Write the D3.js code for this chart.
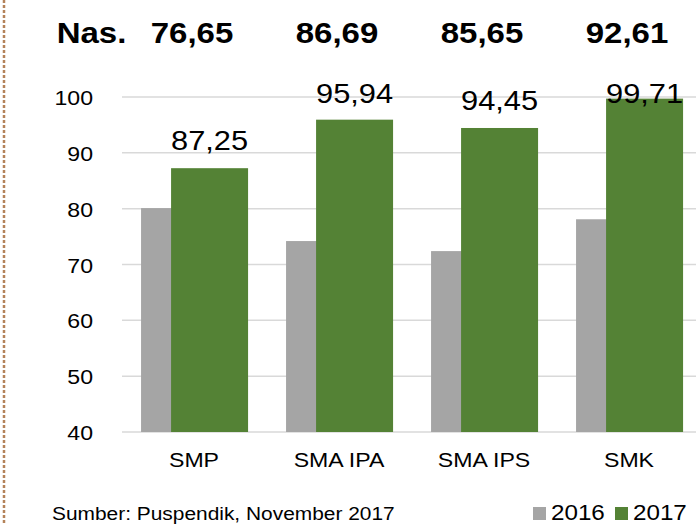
<!DOCTYPE html>
<html>
<head>
<meta charset="utf-8">
<script src="https://cdn.jsdelivr.net/npm/d3@7"></script>
<style>
  body { margin: 0; background: #fff; }
  svg { display: block; font-family: "Liberation Sans", Arial, sans-serif; }
</style>
</head>
<body>
<div id="chart"></div>
<script>
// Data
const categories = ["SMP", "SMA IPA", "SMA IPS", "SMK"];
const values2016 = [80.1, 74.2, 72.4, 78.1];
const values2017 = [87.25, 95.94, 94.45, 99.71];
const nasional = [76.65, 86.69, 85.65, 92.61];
const yTicks = [40, 50, 60, 70, 80, 90, 100];
const seriesNames = ["2016", "2017"];

const width = 696, height = 525;
const colors = {"2016": "#a5a5a5", "2017": "#548235"};

// comma as decimal separator
const fmt = d3.formatLocale({decimal: ",", thousands: ".", grouping: [3], currency: ["", ""]}).format(".2f");

const svg = d3.select("#chart").append("svg")
    .attr("width", width)
    .attr("height", height);

// text in the reference is slightly stretched horizontally
const sx = 1.1;
function place(sel, x, y) {
    return sel.attr("transform", (d, i) => "translate(" + x(d, i) + "," + y(d, i) + ") scale(" + sx + ",1)");
}

// dashed margin line on the left
svg.append("line")
    .attr("x1", 4).attr("x2", 4)
    .attr("y1", 0).attr("y2", height)
    .attr("stroke", "#b5835a")
    .attr("stroke-width", 2.5)
    .attr("stroke-dasharray", "3,2");

// scales
const x = d3.scaleBand()
    .domain(categories)
    .range([122.5, 702.5]);

const y = d3.scaleLinear()
    .domain([40, 100])
    .range([432, 97]);

const bw = x.bandwidth();
const barW = bw * 0.531;
const gap = bw * 0.128;
const shift = bw * 0.207;

// gridlines
svg.append("g")
    .selectAll("line")
    .data(yTicks)
    .enter().append("line")
    .attr("x1", 122).attr("x2", width)
    .attr("y1", d => y(d)).attr("y2", d => y(d))
    .attr("stroke", "#d9d9d9")
    .attr("stroke-width", 1.5);

// y tick labels
place(svg.append("g")
    .selectAll("text")
    .data(yTicks)
    .enter().append("text")
    .attr("text-anchor", "end")
    .attr("font-size", 21)
    .attr("fill", "#000")
    .text(d => d), () => 93, d => y(d) + 8);

// 2016 bars (behind)
svg.append("g")
    .selectAll("rect")
    .data(categories)
    .enter().append("rect")
    .attr("x", d => x(d) + gap)
    .attr("y", (d, i) => y(values2016[i]))
    .attr("width", barW)
    .attr("height", (d, i) => y(40) - y(values2016[i]))
    .attr("fill", colors["2016"]);

// 2017 bars (overlapping in front)
svg.append("g")
    .selectAll("rect")
    .data(categories)
    .enter().append("rect")
    .attr("x", d => x(d) + gap + shift)
    .attr("y", (d, i) => y(values2017[i]))
    .attr("width", barW)
    .attr("height", (d, i) => y(40) - y(values2017[i]))
    .attr("fill", colors["2017"]);

// 2017 value labels
place(svg.append("g")
    .selectAll("text")
    .data(categories)
    .enter().append("text")
    .attr("text-anchor", "middle")
    .attr("font-size", 28)
    .attr("fill", "#000")
    .text((d, i) => fmt(values2017[i])),
    d => x(d) + gap + shift + barW / 2,
    (d, i) => Math.max(y(values2017[i]) - 18, 103));

// x axis labels
place(svg.append("g")
    .selectAll("text")
    .data(categories)
    .enter().append("text")
    .attr("text-anchor", "middle")
    .attr("font-size", 21)
    .attr("fill", "#000")
    .text(d => d), d => x(d) + x.bandwidth() / 2 - 1, () => 467);

// national averages row
place(svg.append("text")
    .attr("text-anchor", "middle")
    .attr("font-size", 30)
    .attr("font-weight", "bold")
    .text("Nas."), () => 91.5, () => 43);

place(svg.append("g")
    .selectAll("text")
    .data(categories)
    .enter().append("text")
    .attr("text-anchor", "middle")
    .attr("font-size", 30)
    .attr("font-weight", "bold")
    .text((d, i) => fmt(nasional[i])), d => x(d) + x.bandwidth() / 2 - 3, () => 43);

// source note
place(svg.append("text")
    .attr("font-size", 19)
    .attr("fill", "#000")
    .text("Sumber: Puspendik, November 2017"), () => 52, () => 520);

// legend
const legendX = [533, 615];
const legend = svg.append("g")
    .selectAll("g")
    .data(seriesNames)
    .enter().append("g");

legend.append("rect")
    .attr("x", (d, i) => legendX[i])
    .attr("y", 507)
    .attr("width", 13)
    .attr("height", 13)
    .attr("fill", d => colors[d]);

place(legend.append("text")
    .attr("font-size", 22)
    .attr("fill", "#000")
    .text(d => d), (d, i) => legendX[i] + 18, () => 520);
</script>
</body>
</html>
